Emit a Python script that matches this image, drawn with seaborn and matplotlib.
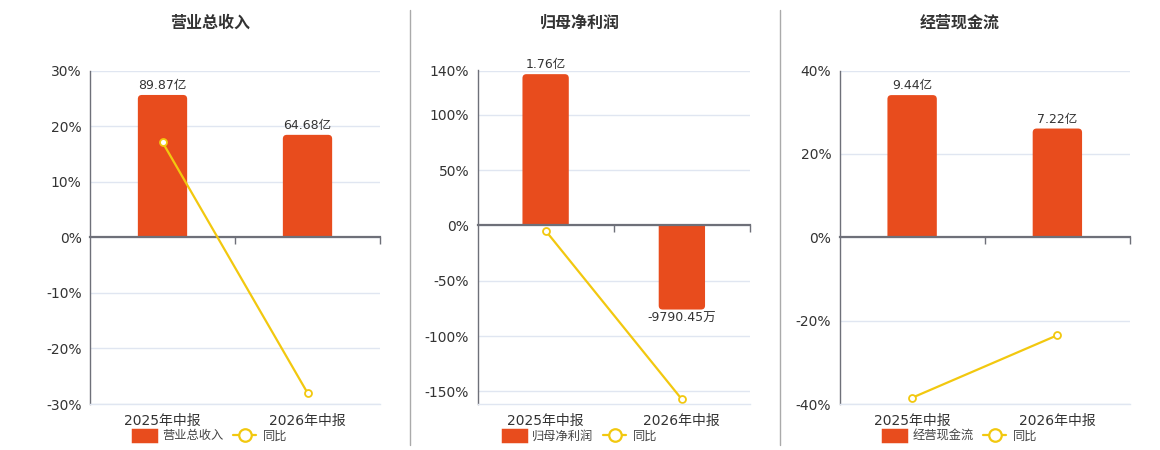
import numpy as np
import pandas as pd
import matplotlib.pyplot as plt
import seaborn as sns
from matplotlib.patches import FancyBboxPatch, Rectangle, Patch
from matplotlib.lines import Line2D

# 数据
categories = ['2025年中报', '2026年中报']

revenue = [89.87, 64.68]            # 亿
revenue_text = ['89.87亿', '64.68亿']
revenue_yoy = [17.1, -28.0]         # %

profit = [1.76, -0.979045]          # 亿
profit_text = ['1.76亿', '-9790.45万']
profit_yoy = [-4.8, -157.2]

cash = [9.44, 7.22]
cash_text = ['9.44亿', '7.22亿']
cash_yoy = [-38.5, -23.5]

# 左轴范围和刻度
revenue_ylim = (-30, 30)
revenue_ticks = [-30, -20, -10, 0, 10, 20, 30]
profit_ylim = (-161.4, 140)
profit_ticks = [-150, -100, -50, 0, 50, 100, 140]
cash_ylim = (-40, 40)
cash_ticks = [-40, -20, 0, 20, 40]

# 第一根柱子顶部在左轴上的读数, 用来对齐柱子的副轴
revenue_bar_pct = 25.6
profit_bar_pct = 136.7
cash_bar_pct = 34.1

BAR = '#E84C1D'
LINE = '#F2C80F'
AXIS = '#6E7079'
GRID = '#E0E6F1'
TXT = '#333333'
W, H = 1160, 450

panels = [
    dict(title='营业总收入', bars=revenue, text=revenue_text, yoy=revenue_yoy,
         ylim=revenue_ylim, ticks=revenue_ticks, bar_pct=revenue_bar_pct,
         rect=[90 / W, 46 / H, 290 / W, 333.5 / H], cx=210),
    dict(title='归母净利润', bars=profit, text=profit_text, yoy=profit_yoy,
         ylim=profit_ylim, ticks=profit_ticks, bar_pct=profit_bar_pct,
         rect=[477.5 / W, 46 / H, 272.5 / W, 333.5 / H], cx=580),
    dict(title='经营现金流', bars=cash, text=cash_text, yoy=cash_yoy,
         ylim=cash_ylim, ticks=cash_ticks, bar_pct=cash_bar_pct,
         rect=[839.5 / W, 46 / H, 290.5 / W, 333.5 / H], cx=960),
]

sns.set_style('white')
plt.rcParams['font.family'] = ['DejaVu Sans', 'Noto Sans CJK SC']

fig = plt.figure(figsize=(W / 100, H / 100), dpi=100)

for p in panels:
    ax = fig.add_axes(p['rect'])
    bx = ax.twinx()
    lo, hi = p['ylim']
    k = p['bars'][0] / p['bar_pct']
    df = pd.DataFrame({'cat': categories, 'val': p['bars'],
                       'yoy': p['yoy'], 'pos': np.arange(len(categories))})

    # 柱子 (副轴, 单位: 亿)
    sns.barplot(data=df, x='cat', y='val', ax=bx, color=BAR, saturation=1, width=0.34)
    bx.set_ylim(lo * k, hi * k)
    ax.set_ylim(lo, hi)
    ax.set_xlim(-0.5, 1.5)

    # 远离零线的一端做圆角: 圆角框越过零线, 再按零线裁掉
    ux = 2.0 / (p['rect'][2] * W)
    uy = (hi - lo) * k / (p['rect'][3] * H)
    r = 4
    ext = 2 * r * uy
    for bar in list(bx.patches):
        x0, w, h = bar.get_x(), bar.get_width(), bar.get_height()
        bar.remove()
        if h > 0:
            box = FancyBboxPatch((x0, -ext), w, h + ext,
                                 boxstyle=f'round,pad=0,rounding_size={r * ux}',
                                 mutation_aspect=uy / ux, fc=BAR, ec='none')
            clip = Rectangle((x0 - w, 0), 3 * w, hi * k, transform=bx.transData)
        else:
            box = FancyBboxPatch((x0, h), w, -h + ext,
                                 boxstyle=f'round,pad=0,rounding_size={r * ux}',
                                 mutation_aspect=uy / ux, fc=BAR, ec='none')
            clip = Rectangle((x0 - w, lo * k), 3 * w, -lo * k, transform=bx.transData)
        bx.add_patch(box)
        box.set_clip_path(clip)

    for i, (v, t) in enumerate(zip(p['bars'], p['text'])):
        bx.annotate(t, (i, v), xytext=(0, 2 if v > 0 else -2), textcoords='offset points',
                    ha='center', va='bottom' if v > 0 else 'top', fontsize=9, color=TXT)

    # 网格放在柱子后面
    bx.set_yticks(np.array(p['ticks']) * k)
    bx.yaxis.grid(True, color=GRID, lw=1)
    bx.set_axisbelow(True)
    bx.tick_params(axis='y', right=False, labelright=False)
    bx.set_ylabel('')
    bx.set_xlabel('')
    for s in bx.spines.values():
        s.set_visible(False)

    # 同比折线 (主轴, 单位: %)
    sns.lineplot(data=df, x='pos', y='yoy', ax=ax, color=LINE, lw=1.6, marker='o',
                 markersize=5, markerfacecolor='white', markeredgecolor=LINE,
                 markeredgewidth=1.3)
    ax.set_zorder(bx.get_zorder() + 1)
    ax.patch.set_visible(False)
    ax.grid(False)
    ax.set_xlabel('')
    ax.set_ylabel('')
    ax.set_xlim(-0.5, 1.5)
    ax.set_ylim(lo, hi)
    ax.set_yticks(p['ticks'], [f'{t}%' for t in p['ticks']])
    ax.set_xticks(range(len(categories)), categories)
    ax.tick_params(axis='y', length=0, pad=6, labelsize=10, labelcolor=TXT)
    ax.tick_params(axis='x', length=0, pad=7, labelsize=10, labelcolor=TXT)
    ax.spines['top'].set_visible(False)
    ax.spines['right'].set_visible(False)
    ax.spines['left'].set_color(AXIS)
    ax.spines['left'].set_linewidth(1)
    ax.spines['bottom'].set_color(GRID)
    ax.spines['bottom'].set_linewidth(1)

    # 零线和分类刻度
    sec = ax.secondary_xaxis((0 - lo) / (hi - lo))
    sec.set_alignment('bottom')
    sec.set_xticks([0.5, 1.5])
    sec.tick_params(length=5, width=1, color=AXIS, labelbottom=False, labeltop=False)
    sec.spines['bottom'].set_color(AXIS)
    sec.spines['bottom'].set_linewidth(1.6)

    fig.text(p['cx'] / W, 1 - 23 / H, p['title'], ha='center', va='center',
             fontsize=11.5, fontweight='bold', color=TXT)

    handles = [Patch(facecolor=BAR, edgecolor=BAR, linewidth=2.5, joinstyle='round'),
               Line2D([], [], color=LINE, lw=1.6, marker='o', markersize=9,
                      markerfacecolor='white', markeredgecolor=LINE, markeredgewidth=1.6)]
    fig.legend(handles, [p['title'], '同比'], loc='center', ncol=2, frameon=False,
               bbox_to_anchor=(p['cx'] / W, 1 - 436 / H), fontsize=8.8,
               handlelength=1.9, handleheight=1.05, columnspacing=0.8,
               handletextpad=0.5, labelcolor='#444444')

for xs in (410, 780):
    fig.add_artist(Line2D([xs / W, xs / W], [1 - 10 / H, 1 - 445 / H],
                          color='#AAAAAA', lw=1))

fig.savefig('out.png', dpi=100)
